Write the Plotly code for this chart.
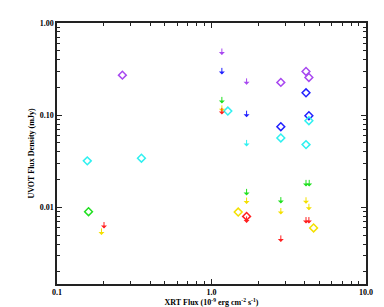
import numpy as np
import plotly.graph_objects as go

# ---- Data ----
bands = ["V", "B", "U", "UVW1", "UVM2", "UVW2"]
colors = ["#a848f0", "#2020ff", "#30f0f0", "#20e020", "#f4e000", "#ff2020"]

# detections (diamonds)
det_x = {
    "V": [0.265, 2.81, 4.09, 4.27],
    "B": [2.81, 4.09, 4.27],
    "U": [0.157, 0.352, 1.276, 2.81, 4.09, 4.27],
    "UVW1": [0.160],
    "UVM2": [1.489, 4.58],
    "UVW2": [1.687],
}
det_y = {
    "V": [0.272, 0.227, 0.298, 0.257],
    "B": [0.0751, 0.175, 0.0988],
    "U": [0.032, 0.0342, 0.111, 0.0567, 0.048, 0.0872],
    "UVW1": [0.0090],
    "UVM2": [0.00891, 0.00599],
    "UVW2": [0.0080],
}

# upper limits (arrows)
ul_x = {
    "V": [1.167, 1.687],
    "B": [1.167, 1.687],
    "U": [1.687],
    "UVW1": [1.167, 1.687, 2.81, 4.09, 4.29],
    "UVM2": [0.194, 1.167, 1.687, 2.81, 4.09, 4.27],
    "UVW2": [0.2015, 1.167, 1.687, 2.81, 4.09, 4.27],
}
ul_y = {
    "V": [0.529, 0.251],
    "B": [0.326, 0.112],
    "U": [0.054],
    "UVW1": [0.158, 0.0159, 0.01295, 0.0199, 0.0199],
    "UVM2": [0.00593, 0.128, 0.0128, 0.00986, 0.0129, 0.01096],
    "UVW2": [0.00695, 0.120, 0.0080, 0.00498, 0.00787, 0.00787],
}

x_ticks = [0.1, 1.0, 10.0]
x_tick_labels = ["0.1", "1.0", "10.0"]
y_ticks = [0.01, 0.1, 1.0]
y_tick_labels = ["0.01", "0.10", "1.00"]
minor_steps = [2, 3, 4, 5, 6, 7, 8, 9]
x_minor = [m * d for d in [0.1, 1.0] for m in minor_steps]
y_minor = [m * d for d in [0.001, 0.01, 0.1] for m in minor_steps]

FONT = dict(family="Liberation Serif, Times New Roman, serif", size=8, color="black", weight="bold")

fig = go.Figure()
annotations = []
for band, col in zip(bands, colors):
    fig.add_trace(go.Scatter(
        x=det_x[band], y=det_y[band], mode="markers",
        marker=dict(symbol="diamond-open", size=6, color=col, line=dict(width=1.5, color=col)),
        showlegend=False, hoverinfo="skip"))
    for xv, yv in zip(ul_x[band], ul_y[band]):
        annotations.append(dict(
            x=np.log10(xv), y=np.log10(yv), xref="x", yref="y",
            text="", showarrow=True, ax=0, ay=8,
            arrowside="start", arrowhead=2, arrowsize=0.9, arrowwidth=1,
            arrowcolor=col, standoff=0, startstandoff=0))

def axis(rng, vals, texts, minor_vals, title, standoff):
    return dict(
        type="log", range=rng, showgrid=False, zeroline=False,
        showline=True, linecolor="#222", linewidth=1.5, mirror="ticks",
        ticks="inside", ticklen=5, tickwidth=1.2, tickcolor="#222",
        tickvals=vals, ticktext=texts,
        minor=dict(tickvals=minor_vals, ticks="inside", ticklen=3, tickwidth=1,
                   tickcolor="#222", showgrid=False),
        tickfont=FONT,
        title=dict(text=title, font=FONT, standoff=standoff),
    )

fig.update_layout(
    width=384, height=307,
    margin=dict(l=57, r=18, t=23, b=23, autoexpand=False),
    paper_bgcolor="white", plot_bgcolor="white",
    annotations=annotations,
    xaxis=axis([-1, 1], x_ticks, x_tick_labels, x_minor,
               "XRT Flux (10<sup>-9</sup> erg cm<sup>-2</sup> s<sup>-1</sup>)", 2),
    yaxis=axis([-2.83, 0], y_ticks, y_tick_labels, y_minor,
               "UVOT Flux Density (mJy)", 4),
)

fig.write_html("out.html", config={"displayModeBar": False},
               post_script="document.body.style.margin='0';")
